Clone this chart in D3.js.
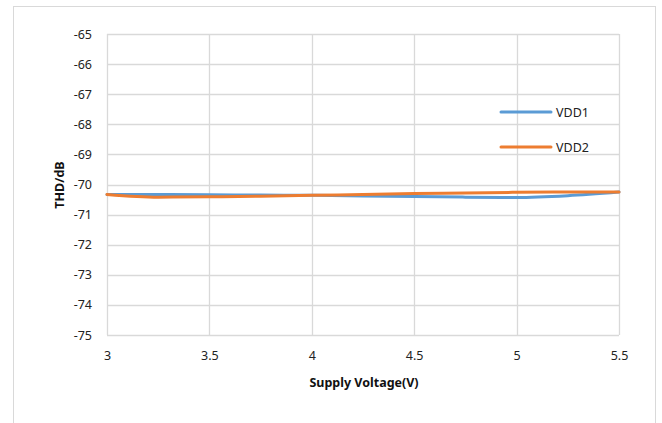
<!DOCTYPE html>
<html><head><meta charset="utf-8">
<script src="https://cdn.jsdelivr.net/npm/d3@7"></script>
<style>body{margin:0;background:#fff}svg{display:block}</style>
</head><body>
<script>
const voltages = [3, 3.25, 3.5, 3.75, 4, 4.25, 4.5, 4.75, 5, 5.25, 5.5];
const vdd1 = [-70.33, -70.33, -70.34, -70.35, -70.36, -70.38, -70.40, -70.42, -70.43, -70.37, -70.25];
const vdd2 = [-70.33, -70.42, -70.41, -70.39, -70.36, -70.33, -70.30, -70.28, -70.26, -70.25, -70.25];
const seriesNames = ["VDD1", "VDD2"];
const seriesColors = ["#5b9bd5", "#ed7d31"];
const xTicks = [3, 3.5, 4, 4.5, 5, 5.5];
const yTicks = [-65, -66, -67, -68, -69, -70, -71, -72, -73, -74, -75];

const W = 662, H = 423;
const svg = d3.select("body").append("svg").attr("width", W).attr("height", H);
svg.append("rect").attr("x", 13.5).attr("y", 6.5).attr("width", 642).attr("height", 430)
  .attr("fill", "#fff").attr("stroke", "#d9d9d9");

const x = d3.scaleLinear().domain([3, 5.5]).range([107, 619]);
const y = d3.scaleLinear().domain([-75, -65]).range([335, 34]);
const font = "'Source Sans Pro','Noto Sans',sans-serif";

// grid
const g = svg.append("g");
g.selectAll(".hg").data(yTicks).join("line")
  .attr("x1", x(3)).attr("x2", x(5.5))
  .attr("y1", d => Math.round(y(d)) + 0.5).attr("y2", d => Math.round(y(d)) + 0.5)
  .attr("stroke", "#d9d9d9").attr("stroke-width", 1.3);
g.selectAll(".vg").data(xTicks).join("line")
  .attr("y1", y(-65)).attr("y2", y(-75))
  .attr("x1", d => Math.round(x(d)) + 0.5).attr("x2", d => Math.round(x(d)) + 0.5)
  .attr("stroke", "#d9d9d9").attr("stroke-width", 1.3);

// axes via d3
const yAxis = d3.axisLeft(y).tickValues(yTicks).tickSize(0).tickPadding(15).tickFormat(d => String(d));
const ya = svg.append("g").attr("transform", `translate(${x(3)},0)`).call(yAxis);
ya.select(".domain").remove();
ya.selectAll("text").attr("font-family", font).attr("font-size", 12.5).attr("fill", "#222");

const xAxis = d3.axisBottom(x).tickValues(xTicks).tickSize(0).tickPadding(16).tickFormat(d => String(d));
const xa = svg.append("g").attr("transform", `translate(0,${y(-75)})`).call(xAxis);
xa.select(".domain").remove();
xa.selectAll("text").attr("font-family", font).attr("font-size", 12.5).attr("fill", "#222");

// axis titles
svg.append("text").attr("x", 364).attr("y", 387).attr("text-anchor", "middle")
  .attr("font-family", font).attr("font-size", 12.5).attr("font-weight", "bold").attr("fill", "#111")
  .text("Supply Voltage(V)");
svg.append("text").attr("transform", "translate(64,185) rotate(-90)").attr("text-anchor", "middle")
  .attr("font-family", font).attr("font-size", 12.5).attr("font-weight", "bold").attr("fill", "#111")
  .text("THD/dB");

// lines
const line = d3.line().x(d => x(d[0])).y(d => y(d[1])).curve(d3.curveMonotoneX);
[vdd1, vdd2].forEach((vals, i) => {
  svg.append("path").datum(voltages.map((v, k) => [v, vals[k]]))
    .attr("d", line).attr("fill", "none").attr("stroke", seriesColors[i])
    .attr("stroke-width", 3).attr("stroke-linecap", "round");
});

// legend
const legY = [112, 147];
seriesNames.forEach((n, i) => {
  svg.append("line").attr("x1", 501).attr("x2", 551).attr("y1", legY[i]).attr("y2", legY[i])
    .attr("stroke", seriesColors[i]).attr("stroke-width", 3).attr("stroke-linecap", "round");
  svg.append("text").attr("x", 556).attr("y", legY[i] + 4.5)
    .attr("font-family", font).attr("font-size", 12.5).attr("fill", "#222").text(n);
});
</script>
</body></html>
